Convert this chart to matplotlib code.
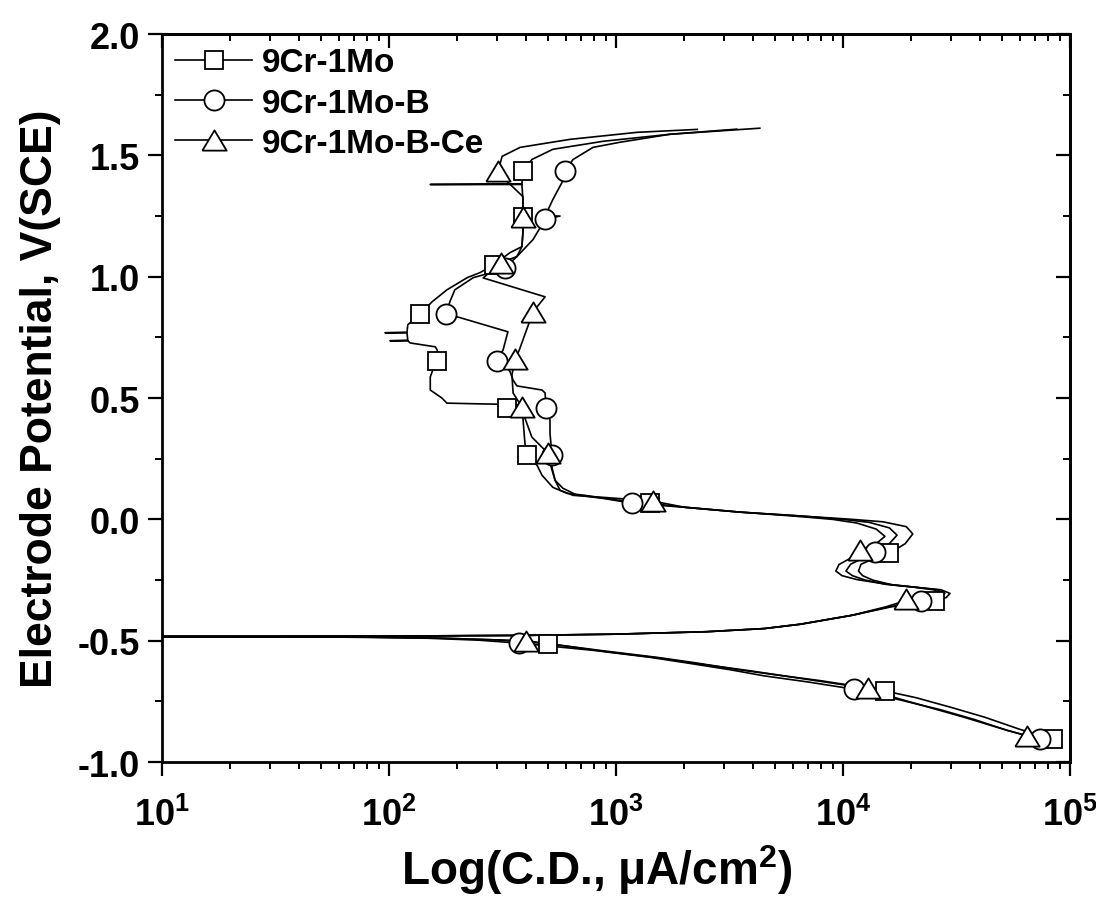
import numpy as np
import matplotlib
matplotlib.use("Agg")
import matplotlib.pyplot as plt
from matplotlib.ticker import MultipleLocator, LogLocator, NullFormatter
from matplotlib.lines import Line2D

plt.rcParams['font.family'] = ['Liberation Sans', 'DejaVu Sans']
plt.rcParams['font.weight'] = 'bold'
plt.rcParams['mathtext.fontset'] = 'custom'
plt.rcParams['mathtext.bf'] = 'Liberation Sans:bold'
plt.rcParams['mathtext.rm'] = 'Liberation Sans:bold'
plt.rcParams['mathtext.default'] = 'bf'

# polarisation curves, current density (uA/cm2) vs potential (V SCE)
labels = ["9Cr-1Mo", "9Cr-1Mo-B", "9Cr-1Mo-B-Ce"]

# 9Cr-1Mo
sq_cd = [84000, 60000, 42000, 30000, 21000, 15300, 9000, 5500, 3900, 2300, 1560, 900, 500, 300, 180, 100, 40, 3,
         3, 100, 400, 1000, 2500, 4500, 6500, 11000, 16400, 22000, 25400, 28500, 29600, 27000, 22000, 16500,
         13500, 12200, 11700, 12000, 13800, 16000, 18800, 20300, 19000, 15000, 11000, 6500, 3500, 2000, 1410,
         1000, 716, 609,
         527, 472, 449, 405, 397, 389, 385, 378, 331, 250, 180, 171, 152, 152, 156, 163, 163, 160, 124, 121,
         101, 121, 120, 96, 120, 121, 137, 155, 180, 221, 252, 290, 341, 385, 389, 389, 389, 385, 152, 385,
         389, 426, 527, 877, 1730, 3400]
sq_v = [-0.905, -0.865, -0.815, -0.775, -0.735, -0.707, -0.675, -0.645, -0.624, -0.595, -0.572, -0.545, -0.512,
        -0.497, -0.49, -0.486, -0.484, -0.483,
        -0.483, -0.481, -0.478, -0.473, -0.463, -0.45, -0.432, -0.395, -0.36, -0.345, -0.338, -0.322, -0.305,
        -0.29, -0.282, -0.27, -0.25, -0.232, -0.213, -0.185, -0.16, -0.14, -0.1, -0.06, -0.03, -0.01, 0.0,
        0.014, 0.03, 0.05, 0.066, 0.08, 0.1, 0.107,
        0.132, 0.182, 0.223, 0.264, 0.314, 0.417, 0.45, 0.472, 0.474, 0.476, 0.479, 0.5, 0.533, 0.587, 0.616,
        0.653, 0.698, 0.711, 0.727, 0.736, 0.736, 0.738, 0.769, 0.769, 0.771, 0.802, 0.847, 0.897, 0.946,
        0.996, 1.017, 1.05, 1.099, 1.124, 1.182, 1.248, 1.318, 1.38, 1.38, 1.382, 1.434, 1.483, 1.525, 1.558,
        1.587, 1.608]

# 9Cr-1Mo-B
ci_cd = [74000, 53000, 38000, 27000, 18000, 11200, 7000, 4500, 3200, 2000, 1400, 800, 374, 250, 150, 80, 30, 3,
         3, 100, 400, 1000, 2500, 4500, 6500, 11000, 16000, 20000, 22100, 26500, 28100, 26000, 21000, 15500,
         12500, 11000, 10300, 10800, 12500, 13800, 16000, 17300, 16000, 13000, 10000, 6500, 3500, 2000, 1180,
         900, 673, 584,
         539, 522, 522, 512, 512, 492, 487, 472, 366, 352, 341, 320, 299, 318, 334, 206, 178, 186, 195, 235,
         290, 324, 366, 431, 487, 567, 487, 527, 578, 596, 660, 596, 647, 792, 1040, 1730, 4300]
ci_v = [-0.905, -0.87, -0.825, -0.785, -0.745, -0.70, -0.67, -0.645, -0.62, -0.59, -0.568, -0.54, -0.51, -0.498,
        -0.49, -0.486, -0.484, -0.483,
        -0.483, -0.481, -0.478, -0.473, -0.463, -0.45, -0.432, -0.395, -0.36, -0.345, -0.338, -0.322, -0.305,
        -0.29, -0.28, -0.268, -0.25, -0.232, -0.213, -0.185, -0.155, -0.135, -0.1, -0.065, -0.035, -0.012, 0.0,
        0.014, 0.03, 0.05, 0.066, 0.085, 0.1, 0.128,
        0.161, 0.215, 0.264, 0.355, 0.409, 0.46, 0.521, 0.533, 0.55, 0.574, 0.61, 0.64, 0.653, 0.698, 0.773,
        0.831, 0.847, 0.9, 0.946, 0.996, 1.02, 1.037, 1.083, 1.153, 1.236, 1.25, 1.25, 1.318, 1.388, 1.434,
        1.434, 1.436, 1.483, 1.533, 1.554, 1.587, 1.612]

# 9Cr-1Mo-B-Ce
tr_cd = [64700, 47000, 34000, 24000, 17000, 12900, 8000, 5000, 3500, 2200, 1500, 850, 400, 260, 160, 85, 30, 3,
         3, 100, 400, 1000, 2500, 4500, 6500, 11000, 15500, 18900, 23000, 27300, 25000, 20000, 15000, 11500,
         9900, 9300, 9600, 10800, 11900, 14000, 15300, 14000, 11500, 9000, 6000, 3500, 2000, 1460, 900, 647,
         567,
         539, 512, 501, 426, 397, 385, 352, 348, 359, 375, 431, 487, 260, 311, 366, 385, 389, 389, 389, 331,
         302, 315, 378, 627, 1240, 2280]
tr_v = [-0.893, -0.855, -0.815, -0.775, -0.735, -0.695, -0.665, -0.64, -0.62, -0.59, -0.568, -0.54, -0.50, -0.495,
        -0.489, -0.486, -0.484, -0.483,
        -0.483, -0.481, -0.478, -0.473, -0.463, -0.45, -0.432, -0.395, -0.36, -0.335, -0.322, -0.305, -0.29,
        -0.278, -0.265, -0.248, -0.232, -0.213, -0.186, -0.16, -0.128, -0.1, -0.07, -0.04, -0.015, 0.0, 0.014,
        0.03, 0.05, 0.075, 0.09, 0.099, 0.12,
        0.161, 0.231, 0.273, 0.339, 0.417, 0.463, 0.521, 0.595, 0.661, 0.698, 0.855, 0.917, 0.995, 1.058,
        1.083, 1.124, 1.182, 1.244, 1.33, 1.393, 1.434, 1.496, 1.533, 1.566, 1.595, 1.607]

# symbol positions along each curve
sq_mk_cd = [84000, 15300, 500, 25400, 16000, 1410, 405, 331, 163, 137, 290, 389, 389]
sq_mk_v = [-0.905, -0.707, -0.512, -0.338, -0.14, 0.066, 0.264, 0.459, 0.653, 0.847, 1.05, 1.248, 1.434]
ci_mk_cd = [74000, 11200, 374, 22100, 13800, 1180, 522, 492, 299, 178, 324, 487, 596]
ci_mk_v = [-0.905, -0.70, -0.51, -0.338, -0.135, 0.066, 0.264, 0.46, 0.653, 0.847, 1.037, 1.236, 1.434]
tr_mk_cd = [64700, 12900, 400, 18900, 11900, 1460, 501, 385, 359, 431, 311, 389, 302]
tr_mk_v = [-0.893, -0.695, -0.50, -0.33, -0.128, 0.075, 0.273, 0.463, 0.661, 0.855, 1.058, 1.244, 1.434]

tri = [(-1.2, -1.0), (1.2, -1.0), (0.0, 1.0), (-1.2, -1.0)]
markers = ['s', 'o', tri]
msizes = [13, 14.5, 17.5]

fig = plt.figure(figsize=(10.96, 9.03), dpi=100)
ax = fig.add_axes([0.1478, 0.155, 0.8285, 0.8062])

curves = [(sq_cd, sq_v, sq_mk_cd, sq_mk_v), (ci_cd, ci_v, ci_mk_cd, ci_mk_v), (tr_cd, tr_v, tr_mk_cd, tr_mk_v)]
for cd, v, mcd, mv in curves:
    ax.plot(cd, v, color='black', lw=1.2, zorder=2)
for (cd, v, mcd, mv), mk, ms in zip(curves, markers, msizes):
    ax.plot(mcd, mv, linestyle='none', marker=mk, ms=ms, mfc='white', mec='black', mew=1.3, zorder=3)

ax.set_xscale('log')
ax.set_xlim(10, 1e5)
ax.set_ylim(-1.0, 2.0)

ax.yaxis.set_major_locator(MultipleLocator(0.5))
ax.yaxis.set_minor_locator(MultipleLocator(0.25))
ax.yaxis.set_major_formatter(plt.FuncFormatter(lambda y, p: f"{y:.1f}"))
ax.xaxis.set_major_locator(LogLocator(base=10))
ax.xaxis.set_minor_locator(LogLocator(base=10, subs=np.arange(2, 10)))
ax.xaxis.set_minor_formatter(NullFormatter())
ax.xaxis.set_major_formatter(plt.FuncFormatter(lambda x, p: "$10^{%d}$" % round(np.log10(x))))

for s in ax.spines.values():
    s.set_linewidth(2.0)
ax.tick_params(which='major', direction='out', length=10, width=1.6, labelsize=26, pad=6)
ax.tick_params(axis='x', which='major', pad=15)
ax.tick_params(which='minor', direction='out', length=5, width=1.4)

# inward ticks on the top and right edges
top = ax.secondary_xaxis('top')
top.set_xscale('log')
top.xaxis.set_major_locator(LogLocator(base=10))
top.xaxis.set_minor_locator(LogLocator(base=10, subs=np.arange(2, 10)))
top.tick_params(which='major', direction='in', length=10, width=1.6, labeltop=False)
top.tick_params(which='minor', direction='in', length=5, width=1.4, labeltop=False)
right = ax.secondary_yaxis('right')
right.yaxis.set_major_locator(MultipleLocator(0.5))
right.yaxis.set_minor_locator(MultipleLocator(0.25))
right.tick_params(which='major', direction='in', length=10, width=1.6, labelright=False)
right.tick_params(which='minor', direction='in', length=5, width=1.4, labelright=False)
for s in list(top.spines.values()) + list(right.spines.values()):
    s.set_linewidth(2.0)

fig.text(0.544, 0.036, "Log(C.D., μA/cm$^{2}$)", ha='center', va='center', fontsize=33, fontweight='bold')
fig.text(0.037, 0.558, "Electrode Potential, V(SCE)", ha='center', va='center', rotation=90,
         fontsize=32, fontweight='bold')

handles = [Line2D([], [], color='black', lw=1.2, marker=mk, ms=ms, mfc='white', mec='black', mew=1.3)
           for mk, ms in zip(markers, msizes)]
ax.legend(handles, labels, loc='upper left', frameon=False, fontsize=24, handlelength=2.3,
          handletextpad=0.3, labelspacing=0.28, borderaxespad=0.15, borderpad=0.25, numpoints=1)

fig.savefig("out.png", dpi=100)
